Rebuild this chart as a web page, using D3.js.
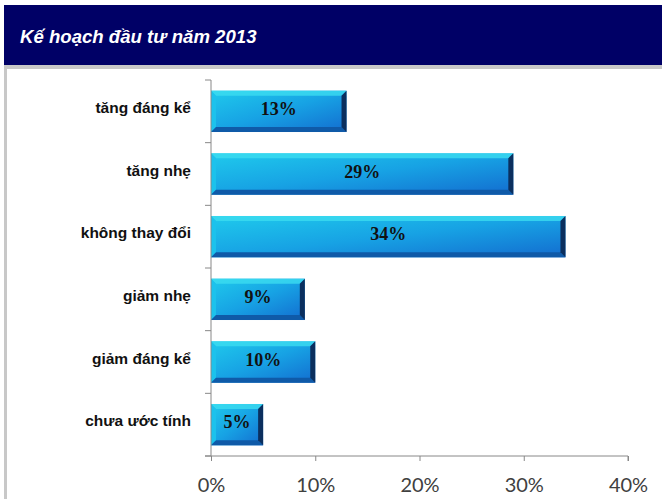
<!DOCTYPE html>
<html>
<head>
<meta charset="utf-8">
<script src="https://cdn.jsdelivr.net/npm/d3@7"></script>
<style>
  body { margin: 0; background: #fff; }
  svg { display: block; }
</style>
</head>
<body>
<div id="chart"></div>
<script>
// data
const categories = ["tăng đáng kể", "tăng nhẹ", "không thay đổi", "giảm nhẹ", "giảm đáng kể", "chưa ước tính"];
const values = [13, 29, 34, 9, 10, 5];
const tickValues = [0, 10, 20, 30, 40];
const title = "Kế hoạch đầu tư năm 2013";

const width = 662, height = 499;
const margin = { top: 80, right: 34, bottom: 43, left: 211 };

const svg = d3.select("#chart").append("svg")
  .attr("width", width)
  .attr("height", height);

// frame: navy title bar, gray rule under it, gray left border
svg.append("rect").attr("x", 4).attr("y", 5).attr("width", width - 4).attr("height", 60).attr("fill", "#000066");
svg.append("rect").attr("x", 4).attr("y", 65).attr("width", width - 4).attr("height", 4).attr("fill", "#c8c8c8");
svg.append("rect").attr("x", 4).attr("y", 69).attr("width", 3).attr("height", height - 69).attr("fill", "#c8c8c8");

svg.append("text")
  .attr("x", 20).attr("y", 43)
  .attr("fill", "#fff")
  .style("font", "italic bold 18.6px 'Liberation Sans', Arial, sans-serif")
  .text(title);

const x = d3.scaleLinear().domain([0, 40]).range([margin.left, width - margin.right]);
const y = d3.scaleBand().domain(categories).range([margin.top, height - margin.bottom]).paddingInner(0.34).paddingOuter(0.17);

// gradients
const defs = svg.append("defs");
const face = defs.append("linearGradient").attr("id", "face").attr("x1", 0).attr("y1", 0).attr("x2", 1).attr("y2", 1);
face.append("stop").attr("offset", 0).attr("stop-color", "#1fcaec");
face.append("stop").attr("offset", 0.5).attr("stop-color", "#17a2e4");
face.append("stop").attr("offset", 1).attr("stop-color", "#136ccf");

const g = svg.append("g");
const bw = 5;

const bars = g.selectAll(".bar")
  .data(categories.map((c, i) => ({ cat: c, val: values[i] })))
  .enter().append("g").attr("class", "bar");

bars.each(function(d){
  const x0 = x(0), x1 = x(d.val), y0 = y(d.cat), y1 = y0 + y.bandwidth();
  const b = d3.select(this);
  b.append("rect").attr("x", x0).attr("y", y0).attr("width", x1 - x0).attr("height", y1 - y0).attr("fill", "url(#face)");
  // top bevel
  b.append("polygon").attr("points", [[x0, y0], [x1, y0], [x1 - bw, y0 + bw], [x0 + bw, y0 + bw]].join(" ")).attr("fill", "#3cdcf0").attr("opacity", 0.8);
  // left bevel
  b.append("polygon").attr("points", [[x0, y0], [x0 + bw, y0 + bw], [x0 + bw, y1 - bw], [x0, y1]].join(" ")).attr("fill", "#1cc2ec");
  // bottom bevel
  b.append("polygon").attr("points", [[x0, y1], [x0 + bw, y1 - bw], [x1 - bw, y1 - bw], [x1, y1]].join(" ")).attr("fill", "#0f5aa8");
  // right bevel
  b.append("polygon").attr("points", [[x1, y0], [x1 - bw, y0 + bw], [x1 - bw, y1 - bw], [x1, y1]].join(" ")).attr("fill", "#0b2f5e");
  b.append("text")
    .attr("x", (x0 + x1) / 2).attr("y", (y0 + y1) / 2 + 3.5)
    .attr("text-anchor", "middle")
    .attr("fill", "#111")
    .style("font", "bold 18px 'Liberation Serif', 'Times New Roman', serif")
    .text(d.val + "%");
});

// y axis: line with ticks at band edges
const yAxisG = svg.append("g");
yAxisG.append("line").attr("x1", x(0)).attr("x2", x(0)).attr("y1", margin.top).attr("y2", height - margin.bottom).attr("stroke", "#888");
d3.range(categories.length + 1).forEach(i => {
  const yy = margin.top + i * (height - margin.top - margin.bottom) / categories.length;
  yAxisG.append("line").attr("x1", x(0) - 6).attr("x2", x(0)).attr("y1", yy).attr("y2", yy).attr("stroke", "#888");
});
yAxisG.selectAll(".cat").data(categories).enter().append("text")
  .attr("x", 191).attr("y", d => y(d) + y.bandwidth() / 2 + 1.5)
  .attr("text-anchor", "end")
  .attr("fill", "#111")
  .style("font", "bold 15.5px 'Liberation Sans', Arial, sans-serif")
  .text(d => d);

// x axis
const xAxis = d3.axisBottom(x).tickValues(tickValues).tickFormat(d => d + "%").tickSize(5).tickPadding(17);
const xg = svg.append("g").attr("transform", `translate(0,${height - margin.bottom})`).call(xAxis);
xg.select(".domain").attr("d", `M${x(0) - 6},0H${x(40)}V5`).attr("stroke", "#888");
xg.selectAll(".tick line").attr("stroke", "#888");
xg.selectAll(".tick text").attr("fill", "#404040").style("font", "20px Lato, 'Open Sans', sans-serif");
</script>
</body>
</html>
